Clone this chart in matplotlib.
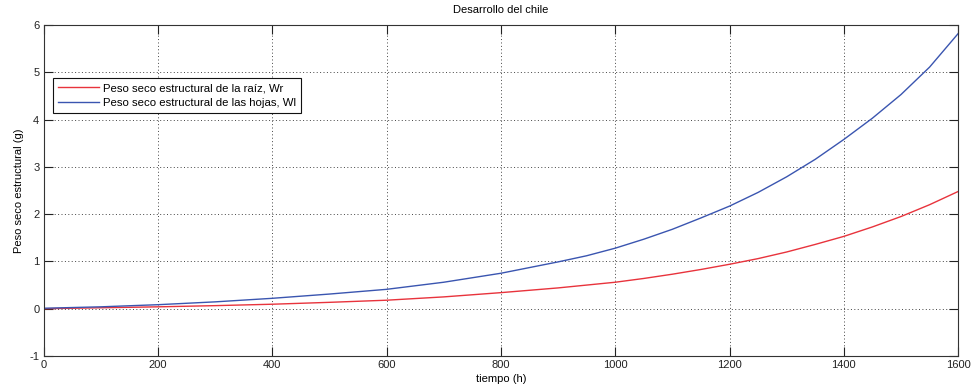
import matplotlib
matplotlib.use("Agg")
import matplotlib.pyplot as plt

# Time in hours and structural dry weight (g) of root and leaves
tiempo = [0, 100, 200, 300, 400, 500, 600, 700, 800, 900, 950, 1000,
          1050, 1100, 1150, 1200, 1250, 1300, 1350, 1400, 1450, 1500,
          1550, 1600]
peso_raiz = [0.0, 0.02, 0.04, 0.065, 0.095, 0.135, 0.18, 0.25, 0.34, 0.44,
             0.50, 0.56, 0.64, 0.73, 0.83, 0.94, 1.06, 1.20, 1.36, 1.53,
             1.73, 1.95, 2.20, 2.48]
peso_hojas = [0.01, 0.04, 0.085, 0.145, 0.22, 0.31, 0.41, 0.56, 0.75, 0.99,
              1.12, 1.28, 1.47, 1.68, 1.92, 2.17, 2.46, 2.79, 3.16, 3.58,
              4.03, 4.53, 5.11, 5.82]

x_ticks = [0, 200, 400, 600, 800, 1000, 1200, 1400, 1600]
y_ticks = [-1, 0, 1, 2, 3, 4, 5, 6]

plt.rcParams['font.family'] = ['Liberation Sans', 'DejaVu Sans']
plt.rcParams['font.size'] = 8
plt.rcParams['axes.unicode_minus'] = False

fig = plt.figure(figsize=(9.71, 3.91), dpi=100)
ax = fig.add_axes([0.0448, 0.0895, 0.942, 0.8465])

ax.plot(tiempo, peso_raiz, color='#e8333c', lw=1.0,
        label='Peso seco estructural de la raíz, Wr')
ax.plot(tiempo, peso_hojas, color='#3a55b0', lw=1.0,
        label='Peso seco estructural de las hojas, Wl')

ax.set_xlim(0, 1600)
ax.set_ylim(-1, 6)
ax.set_xticks(x_ticks)
ax.set_yticks(y_ticks)

ax.grid(True, linestyle=(0, (1, 2.5)), color='#444444', linewidth=0.7)
ax.set_axisbelow(True)

ax.tick_params(direction='in', length=6.5, width=0.8, colors='#222222',
               top=True, right=True, labelsize=8, pad=3)
for s in ax.spines.values():
    s.set_color('#333333')
    s.set_linewidth(0.8)

ax.set_title('Desarrollo del chile', fontsize=8, pad=9)
ax.set_xlabel('tiempo (h)', fontsize=8, labelpad=3)
ax.set_ylabel('Peso seco estructural (g)', fontsize=8, labelpad=4)

leg = ax.legend(loc='upper left', bbox_to_anchor=(0.0104, 0.84),
                borderaxespad=0, fontsize=8.2, handlelength=3.6,
                handletextpad=0.3, borderpad=0.45, labelspacing=0.45,
                fancybox=False, framealpha=1, edgecolor='#111111')
leg.get_frame().set_linewidth(0.8)

fig.savefig('out.png', dpi=100)
